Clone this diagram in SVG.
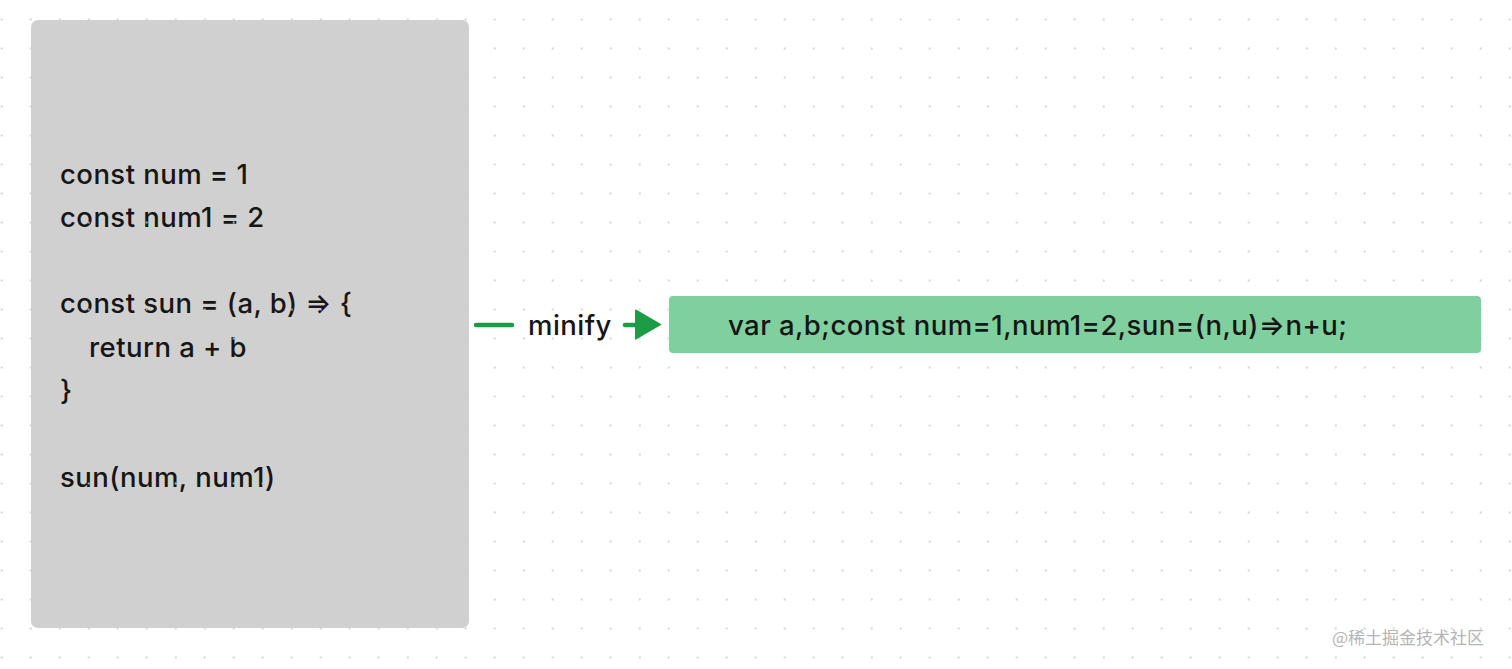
<svg xmlns="http://www.w3.org/2000/svg" width="1512" height="669" viewBox="0 0 1512 669">
  <defs>
    <pattern id="dots" x="1.7" y="19.5" width="29" height="29" patternUnits="userSpaceOnUse">
      <circle cx="0" cy="0" r="1.1" fill="#cdcdcd"/>
      <circle cx="29" cy="0" r="1.1" fill="#cdcdcd"/>
      <circle cx="0" cy="29" r="1.1" fill="#cdcdcd"/>
      <circle cx="29" cy="29" r="1.1" fill="#cdcdcd"/>
    </pattern>
    <style>
      .code { font-family: Inter, "Noto Sans", "Liberation Sans", sans-serif; font-size: 27.5px; font-weight: 450; letter-spacing: 0.45px; fill: #161616; }
      .conn { stroke: #1c9c45; stroke-width: 4.5; fill: none; stroke-linecap: round; }
      .wm { font-family: "Noto Sans CJK SC", "Liberation Sans", sans-serif; font-size: 17px; fill: #b5b5b5; }
    </style>
  </defs>
  <rect width="1512" height="669" fill="#ffffff"/>
  <g id="source">
    <rect x="31" y="20" width="438" height="608" rx="7" fill="#d0d0d0"/>
    <text class="code" x="60" y="183.5">const num = 1</text>
    <text class="code" x="60" y="226.8">const num1 = 2</text>
    <text class="code" x="60" y="313.4">const sun = (a, b) ⇒ {</text>
    <text class="code" x="89" y="356.7">return a + b</text>
    <text class="code" x="60" y="400">}</text>
    <text class="code" x="60" y="486.6">sun(num, num1)</text>
  </g>
  <rect width="1512" height="669" fill="url(#dots)"/>
  <g id="connectors">
    <line class="conn" x1="476" y1="325" x2="512" y2="325"/>
    <text id="label-minify" class="code" x="528" y="334.5">minify</text>
    <line class="conn" x1="625" y1="325" x2="638" y2="325"/>
    <path d="M636,310.5 L660,324.5 L636,338.5 Z" fill="#1c9c45" stroke="#1c9c45" stroke-width="2" stroke-linejoin="round"/>
  </g>
  <g id="result">
    <rect x="669" y="296" width="812" height="57" rx="4" fill="#7ace9a" fill-opacity="0.96"/>
    <text class="code" x="728" y="334.5">var a,b;const num=1,num1=2,sun=(n,u)⇒n+u;</text>
  </g>
  <text class="wm" x="1332" y="644">@稀土掘金技术社区</text>
</svg>
